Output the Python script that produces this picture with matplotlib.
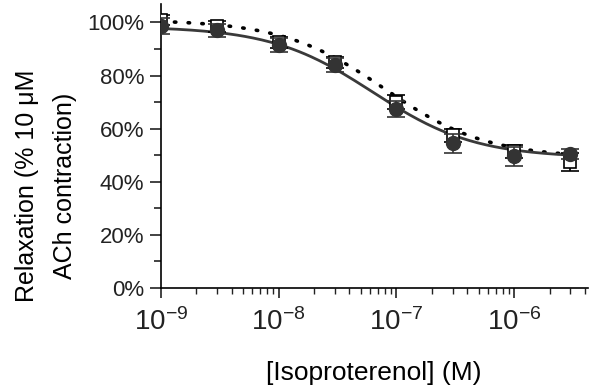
import numpy as np
import matplotlib
matplotlib.use("Agg")
import matplotlib.pyplot as plt
from matplotlib.ticker import FixedLocator, LogLocator, NullFormatter, FuncFormatter

plt.rcParams['font.family'] = ['Liberation Sans', 'DejaVu Sans']
plt.rcParams['mathtext.fontset'] = 'custom'
plt.rcParams['mathtext.rm'] = 'Liberation Sans'
plt.rcParams['mathtext.it'] = 'Liberation Sans'
plt.rcParams['text.color'] = '#222222'
plt.rcParams['xtick.color'] = '#222222'
plt.rcParams['ytick.color'] = '#222222'

# concentrations (M)
conc = [1e-9, 3e-9, 1e-8, 3e-8, 1e-7, 3e-7, 1e-6, 3e-6]

# filled circles, solid fit
circ_mean = [98.5, 97, 91.5, 84, 67.5, 54.5, 49.5, 50.5]
circ_err = [3.0, 2.5, 2.5, 2.5, 3.0, 3.5, 3.5, 2.0]
circ_fit = dict(top=98.5, bottom=49.0, logec50=-7.2, slope=1.0)

# open squares, dotted fit
sq_mean = [101, 98.5, 92.5, 85, 70, 57.5, 51.5, 47.5]
sq_err = [2.0, 2.0, 2.0, 2.0, 2.5, 2.5, 2.5, 3.5]
sq_fit = dict(top=101.0, bottom=49.0, logec50=-7.1, slope=1.0)


def hill(x, top, bottom, logec50, slope):
    return bottom + (top - bottom) / (1 + 10 ** ((np.log10(x) - logec50) * slope))


fig = plt.figure(figsize=(5.93, 3.89), dpi=100)
ax = fig.add_axes([0.271, 0.26, 0.72, 0.73])

xs = np.logspace(-9, np.log10(3e-6), 200)
ax.plot(xs, hill(xs, **sq_fit), color='black', lw=2.6, linestyle=(0, (0.4, 3.4)),
        dash_capstyle='round', zorder=2)
ax.plot(xs, hill(xs, **circ_fit), color='#3a3a3a', lw=2.0, zorder=3)

ax.errorbar(conc, sq_mean, yerr=sq_err, fmt='s', ms=9, mfc='white', mec='black',
            mew=1.2, ecolor='black', elinewidth=1.2, capsize=6.5, capthick=1.2, zorder=4)
ax.errorbar(conc, circ_mean, yerr=circ_err, fmt='o', ms=10, mfc='#333333', mec='#333333',
            ecolor='#333333', elinewidth=1.2, capsize=6.5, capthick=1.2, zorder=5)

ax.set_xscale('log')
ax.set_xlim(1e-9, 4.2e-6)
ax.set_ylim(0, 107)

ax.spines['top'].set_visible(False)
ax.spines['right'].set_visible(False)
ax.spines['left'].set_linewidth(1.2)
ax.spines['bottom'].set_linewidth(1.2)

ax.yaxis.set_major_locator(FixedLocator([0, 20, 40, 60, 80, 100]))
ax.yaxis.set_minor_locator(FixedLocator([10, 30, 50, 70, 90]))
ax.yaxis.set_major_formatter(FuncFormatter(lambda v, p: '%d%%' % v))
ax.xaxis.set_major_locator(FixedLocator([1e-9, 1e-8, 1e-7, 1e-6]))
ax.xaxis.set_minor_locator(LogLocator(base=10, subs=np.arange(2, 10)))
ax.xaxis.set_minor_formatter(NullFormatter())
ax.xaxis.set_major_formatter(FuncFormatter(lambda v, p: r'$\mathregular{10^{%d}}$' % round(np.log10(v))))

ax.tick_params(axis='y', which='major', length=8, width=1.2, labelsize=16, pad=4)
ax.tick_params(axis='y', which='minor', length=5, width=1.2)
ax.tick_params(axis='x', which='major', length=7, width=1.2, labelsize=20, pad=8)
ax.tick_params(axis='x', which='minor', length=4, width=1.0)

ax.set_xlabel('[Isoproterenol] (M)', fontsize=19, labelpad=18)
ax.set_ylabel('Relaxation (% 10 \u03bcM\nACh contraction)', fontsize=18, linespacing=1.75)
ax.yaxis.set_label_coords(-0.195, 0.36)

fig.savefig('out.png', dpi=100)
